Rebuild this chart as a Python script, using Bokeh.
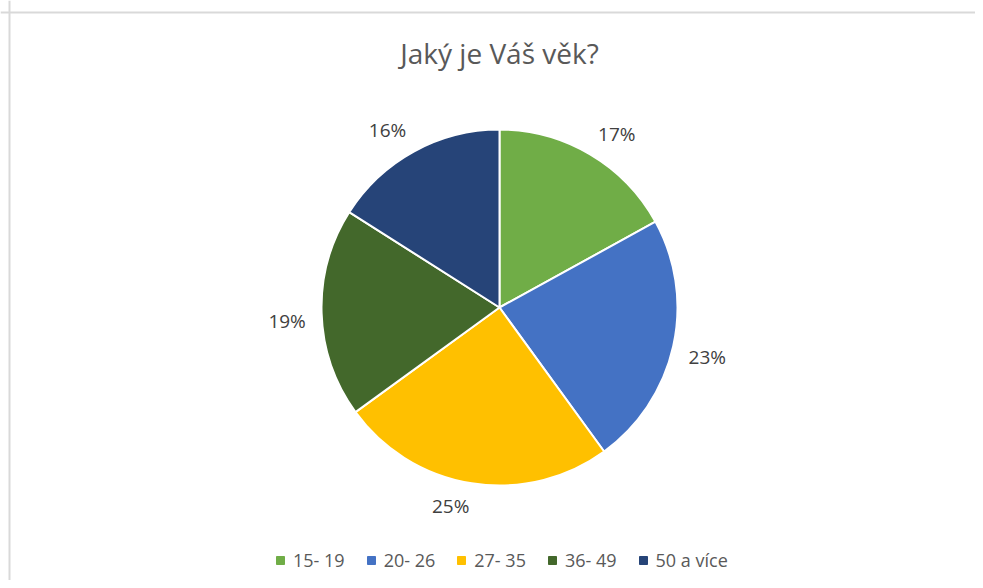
import math
from bokeh.plotting import figure
from bokeh.models import Range1d, Label, Span, Legend, LegendItem, ColumnDataSource
from bokeh.core.properties import value
from bokeh.embed import file_html
from bokeh.resources import INLINE

# ---- data ----
categories = ["15- 19", "20- 26", "27- 35", "36- 49", "50 a více"]
percent = [17, 23, 25, 19, 16]
colors = ["#70AD47", "#4472C4", "#FFC000", "#43682B", "#264478"]
title_text = "Jaký je Váš věk?"

FONT = "Open Sans"
W, H = 975, 580
p = figure(width=W, height=H, output_backend="svg", toolbar_location=None, tools="",
           x_range=Range1d(0, W), y_range=Range1d(-H, 0), min_border=0)
p.axis.visible = False
p.grid.visible = False
p.outline_line_color = None
p.background_fill_color = "white"
p.border_fill_color = "white"

# chart border (top & left visible)
p.add_layout(Span(location=9, dimension="height", line_color="#D9D9D9", line_width=2))
p.add_layout(Span(location=-12, dimension="width", line_color="#D9D9D9", line_width=2))

# title
p.add_layout(Label(x=499, y=-52, text=title_text, text_align="center", text_baseline="middle",
                   text_font=FONT, text_font_size="28px", text_color="#595959"))

# pie
CX, CY, R = 499, -307, 178
total = float(sum(percent))
starts, ends, mids = [], [], []
cum = 0.0
for v in percent:
    a0 = cum / total * 2 * math.pi
    cum += v
    a1 = cum / total * 2 * math.pi
    starts.append(math.pi / 2 - a0)
    ends.append(math.pi / 2 - a1)
    mids.append((a0 + a1) / 2)

src = ColumnDataSource(dict(cat=categories, pct=percent, color=colors,
                            start=starts, end=ends))
p.wedge(x=CX, y=CY, radius=R, start_angle="start", end_angle="end", direction="clock",
        fill_color="color", line_color="white", line_width=2, source=src)

# data labels (outside end)
RL, HW, HH = 194, 18.5, 7
lx, ly, lt = [], [], []
for m, v in zip(mids, percent):
    s, c = math.sin(m), math.cos(m)
    lx.append(CX + RL * s + math.copysign(HW, s))
    ly.append(CY + RL * c + math.copysign(HH, c))
    lt.append(f"{v}%")
p.text(x=lx, y=ly, text=lt, text_align="center", text_baseline="middle",
       text_font=value(FONT), text_font_size="19px", text_color="#404040")

# legend (square swatches; renderers hold one undrawn point so the swatch has a colour)
items = []
for cat, col in zip(categories, colors):
    r = p.scatter(x=[float("nan")], y=[float("nan")], marker="square", size=8,
                  fill_color=col, line_color=col)
    items.append(LegendItem(label=cat, renderers=[r]))
legend = Legend(items=items, orientation="horizontal", location=(270, 8),
                glyph_width=20, glyph_height=20, label_standoff=3, spacing=16,
                padding=0, margin=0, border_line_color=None, background_fill_alpha=0,
                label_text_font=FONT, label_text_font_size="18px", label_text_color="#595959")
p.add_layout(legend, "center")

open("out.html", "w").write(file_html(p, INLINE))
